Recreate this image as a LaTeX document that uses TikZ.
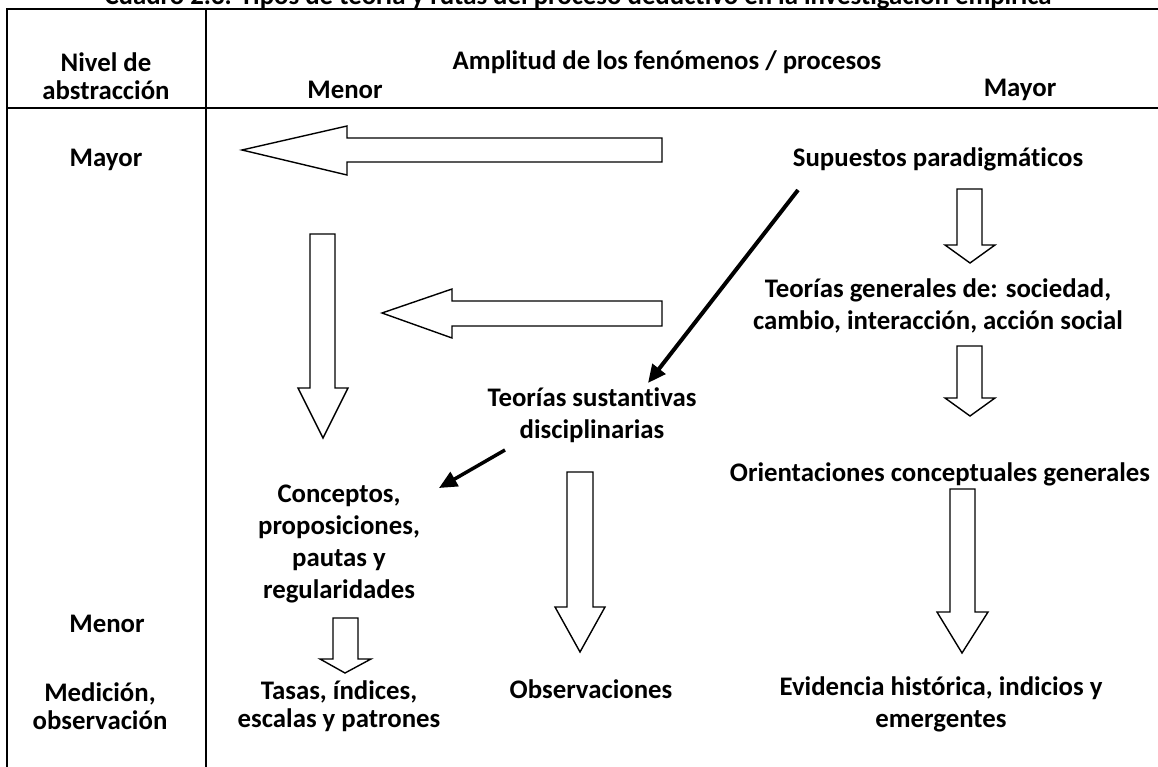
\documentclass[tikz,border=0pt]{standalone}
\usepackage{fontspec}
\setmainfont{Carlito}[Ligatures={NoCommon}]
\usetikzlibrary{arrows.meta}
\begin{document}
\begin{tikzpicture}[x=1pt,y=-1pt,
  txt/.style={font=\fontsize{26.8}{28}\selectfont\bfseries, align=center, inner sep=0pt},
  txtw/.style={font=\fontsize{26.8}{32}\selectfont\bfseries, align=center, inner sep=0pt},
  rule/.style={line width=2pt},
  blk/.style={draw=black, line width=1.4pt, fill=white, line join=miter},
  dark/.style={line width=4pt, -{Triangle[length=18pt,width=16pt]}}
]
\useasboundingbox (0,0) rectangle (1158,767);
% title (cut at top)
\node[txt, anchor=base] (title) at (578,5) {Cuadro 2.3. Tipos de teoría y rutas del proceso deductivo en la investigación empírica};
% table rules
\draw[rule] (7,767) -- (7,9.5) -- (1158,9.5);
\draw[rule] (7,108) -- (1158,108);
\draw[rule] (206,9.5) -- (206,767);
% header texts
\node[txt] (nivel) at (106,76) {Nivel de\\abstracción};
\node[txt] (amplitud) at (667,62) {Amplitud de los fenómenos / procesos};
\node[txt] (hmenor) at (345,90) {Menor};
\node[txt] (hmayor) at (1020,90) {Mayor};
% left column
\node[txt] (lmayor) at (106,160) {Mayor};
\node[txt] (lmenor) at (107,624) {Menor};
\node[txt] (medicion) at (100,706.5) {Medición,\\observación};
% body texts
\node[txt] (supuestos) at (938,159) {Supuestos paradigmáticos};
\node[txtw] (generales) at (938,306) {Teorías generales de: sociedad,\\cambio, interacción, acción social};
\node[txtw] (sustantivas) at (592,415) {Teorías sustantivas\\disciplinarias};
\node[txt] (orient) at (940,474) {Orientaciones conceptuales generales};
\node[txtw] (conceptos) at (339,544) {Conceptos,\\proposiciones,\\pautas y\\regularidades};
\node[txt] (tasas) at (339,706.5) {Tasas, índices,\\escalas y patrones};
\node[txt] (obs) at (591,689) {Observaciones};
\node[txtw] (evid) at (941,704.5) {Evidencia histórica, indicios y\\emergentes};
% left-pointing block arrows
\draw[blk] (662,138) -- (347,138) -- (347,126) -- (242,150) -- (347,175) -- (347,162) -- (662,162) -- cycle;
\draw[blk] (662,301) -- (452,301) -- (452,289) -- (382,313) -- (452,338) -- (452,326) -- (662,326) -- cycle;
% down-pointing block arrows
\draw[blk] (310,234) -- (335,234) -- (335,388) -- (348,388) -- (323,438) -- (298,388) -- (310,388) -- cycle;
\draw[blk] (333,618) -- (358,618) -- (358,659) -- (371,659) -- (345,673) -- (320,659) -- (333,659) -- cycle;
\draw[blk] (567,472) -- (593,472) -- (593,607) -- (605,607) -- (580,652) -- (555,607) -- (567,607) -- cycle;
\draw[blk] (957,189) -- (982,189) -- (982,245) -- (995,245) -- (970,263) -- (945,245) -- (957,245) -- cycle;
\draw[blk] (957,346) -- (982,346) -- (982,398) -- (995,398) -- (970,416) -- (945,398) -- (957,398) -- cycle;
\draw[blk] (950,489) -- (975,489) -- (975,612) -- (988,612) -- (962,653) -- (937,612) -- (950,612) -- cycle;
% black arrows
\coordinate (d1s) at (798,190);
\coordinate (d1e) at (648,383);
\draw[dark] (d1s) -- (d1e);
\coordinate (d2s) at (505,450);
\coordinate (d2e) at (439,488);
\draw[dark, line width=3.5pt] (d2s) -- (d2e);
\end{tikzpicture}
\end{document}
